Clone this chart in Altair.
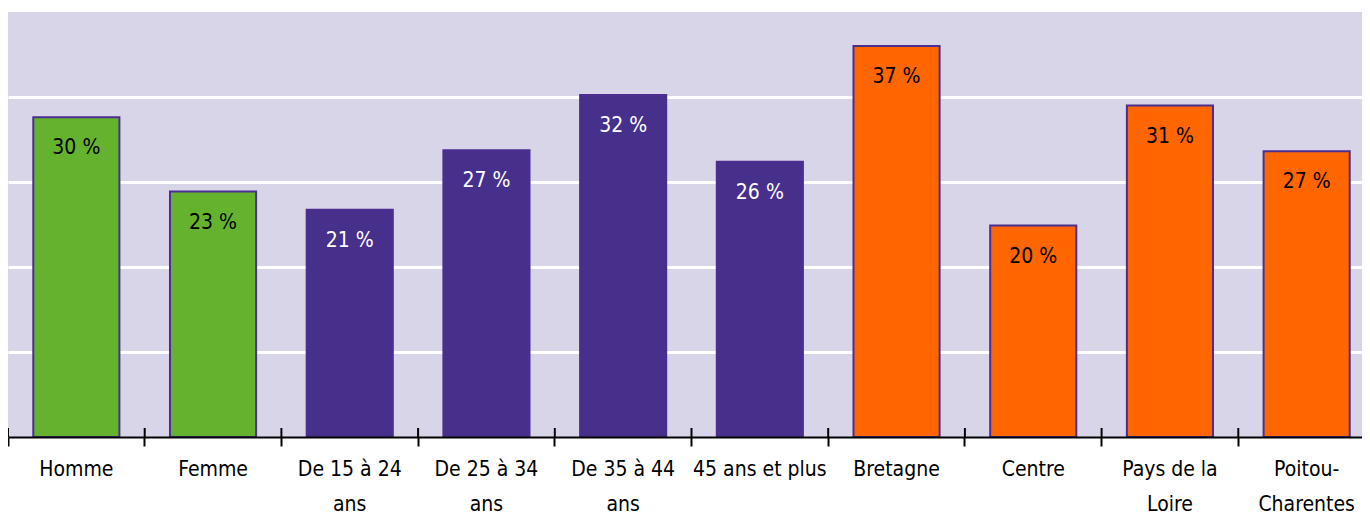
import altair as alt
import pandas as pd

categories = ["Homme", "Femme", "De 15 à 24|ans", "De 25 à 34|ans", "De 35 à 44|ans",
              "45 ans et plus", "Bretagne", "Centre", "Pays de la|Loire", "Poitou-|Charentes"]
values = [30.1, 23.1, 21.4, 27.0, 32.2, 25.9, 36.8, 19.9, 31.2, 26.9]
labels = ["30 %", "23 %", "21 %", "27 %", "32 %", "26 %", "37 %", "20 %", "31 %", "27 %"]
groups = ["sexe", "sexe", "age", "age", "age", "age", "region", "region", "region", "region"]

df = pd.DataFrame({"cat": categories, "val": values, "lab": labels, "grp": groups})

FONT = "Liberation Sans Narrow, DejaVu Sans Condensed, Roboto, sans-serif"

xenc = alt.X("cat:N", sort=categories, title=None,
             scale=alt.Scale(paddingInner=0, paddingOuter=0, range=[0, 1367]),
             axis=alt.Axis(labelAngle=0, domainColor="black", domainWidth=2,
                           tickColor="black", tickWidth=2, tickSize=9, bandPosition=0,
                           labelExpr="split(datum.label, '|')", labelFont=FONT,
                           labelFontSize=21, labelColor="black", labelPadding=12,
                           labelBaseline="top", labelLineHeight=35, zindex=1))
yenc = alt.Y("val:Q", title=None,
             scale=alt.Scale(domain=[0, 40], nice=False),
             axis=alt.Axis(values=[8, 16, 24, 32], labels=False, ticks=False, domain=False,
                           gridColor="white", gridWidth=3, gridOpacity=1))

color = alt.Color("grp:N", legend=None,
                  scale=alt.Scale(domain=["sexe", "age", "region"],
                                  range=["#65b22e", "#47308c", "#ff6600"]))

bars = alt.Chart(df).mark_bar(stroke="#4b2e90", strokeWidth=2, width={"band": 0.63}).encode(
    x=xenc, y=yenc, color=color)

text = alt.Chart(df).mark_text(baseline="middle", dy=31, font=FONT, fontSize=21).encode(
    x=alt.X("cat:N", sort=categories),
    y=alt.Y("val:Q"),
    text="lab:N",
    color=alt.Color("grp:N", legend=None,
                    scale=alt.Scale(domain=["sexe", "age", "region"],
                                    range=["black", "white", "black"])))

ticks_up = alt.Chart(df).mark_rule(color="black", strokeWidth=2).encode(
    x=alt.X("cat:N", sort=categories, bandPosition=0),
    y=alt.value(416), y2=alt.value(425))

chart = alt.layer(bars, text, ticks_up).resolve_scale(color="independent").properties(
    width=1354, height=425,
    autosize=alt.AutoSizeParams(type="none"),
    padding={"left": 0, "top": 4, "right": 0, "bottom": 77},
).configure_view(fill="#d9d5e9", stroke=None)

chart.save("out.html", embed_options={"renderer": "svg", "actions": False})
